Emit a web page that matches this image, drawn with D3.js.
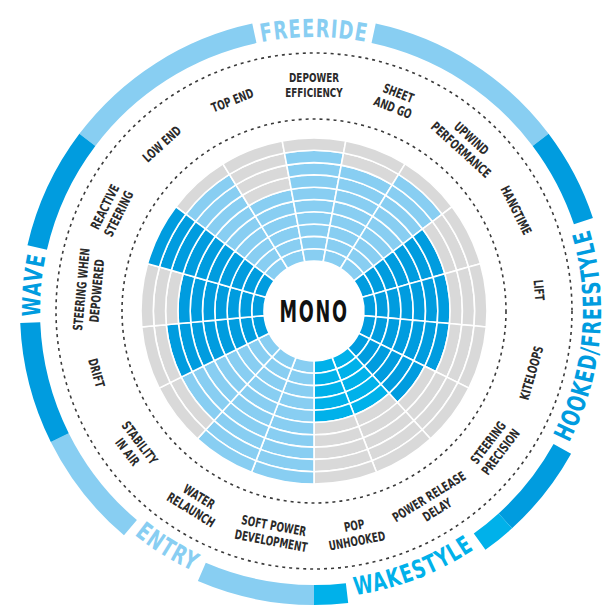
<!DOCTYPE html>
<html>
<head>
<meta charset="utf-8">
<script src="https://cdn.jsdelivr.net/npm/d3@7"></script>
<style>
  body { margin: 0; background: #fff; }
  svg text { font-family: "DejaVu Sans", sans-serif; font-weight: bold; }
</style>
</head>
<body>
<div class="chart"></div>
<script>
// categories clockwise, starting at LOW END ("\n" = line break)
const categories = ["LOW END", "TOP END", "DEPOWER\nEFFICIENCY", "SHEET\nAND GO", "UPWIND\nPERFORMANCE",
  "HANGTIME", "LIFT", "KITELOOPS", "STEERING\nPRECISION",
  "POWER RELEASE\nDELAY", "POP\nUNHOOKED",
  "SOFT POWER\nDEVELOPMENT", "WATER\nRELAUNCH", "STABILITY\nIN AIR",
  "DRIFT", "STEERING WHEN\nDEPOWERED", "REACTIVE\nSTEERING"];
const scores = [9, 6, 9, 8, 9, 7, 7, 7, 6, 5, 5, 10, 10, 8, 8, 7, 10];
const categoryGroup = ["FREERIDE", "FREERIDE", "FREERIDE", "FREERIDE", "FREERIDE",
  "HOOKED/FREESTYLE", "HOOKED/FREESTYLE", "HOOKED/FREESTYLE", "HOOKED/FREESTYLE",
  "WAKESTYLE", "WAKESTYLE",
  "ENTRY", "ENTRY", "ENTRY",
  "WAVE", "WAVE", "WAVE"];
const groups = ["FREERIDE", "HOOKED/FREESTYLE", "WAKESTYLE", "ENTRY", "WAVE"];
const groupColors = ["#88cef2", "#009cdf", "#00b1ea", "#88cef2", "#009cdf"];
const levels = [1, 2, 3, 4, 5, 6, 7, 8, 9, 10];
const centerLabel = "MONO";

const width = 608, height = 607;
const cx = 314, cy = 311;

const svg = d3.select(".chart").append("svg")
    .attr("width", width)
    .attr("height", height)
  .append("g")
    .attr("transform", `translate(${cx},${cy})`);

// one band per category, LOW END centred 2 steps left of top
const step = 2 * Math.PI / categories.length;
const angle = d3.scaleBand().domain(categories).range([-2.5 * step, 2 * Math.PI - 2.5 * step]);
const radius = d3.scaleLinear().domain([0, levels.length]).range([50, 173]);
const color = d3.scaleOrdinal().domain(groups).range(groupColors);

// cells: every category x every level
const cells = [];
categories.forEach((c, i) => levels.forEach(l => cells.push({
  cat: c, level: l, on: l <= scores[i], group: categoryGroup[i]
})));

const cellArc = d3.arc()
    .innerRadius(d => radius(d.level - 1))
    .outerRadius(d => radius(d.level))
    .startAngle(d => angle(d.cat))
    .endAngle(d => angle(d.cat) + angle.bandwidth());

svg.selectAll(".cell")
  .data(cells)
  .enter().append("path")
    .attr("class", "cell")
    .attr("d", cellArc)
    .attr("fill", d => d.on ? color(d.group) : "#d9d9d9")
    .attr("stroke", "#fff")
    .attr("stroke-width", 1.6);

// dashed guide circles around the labels
svg.selectAll(".guide")
  .data([192, 258])
  .enter().append("circle")
    .attr("r", d => d)
    .attr("fill", "none")
    .attr("stroke", "#3a3a3a")
    .attr("stroke-width", 1.6)
    .attr("stroke-dasharray", "3 4");

// category labels, flipped on the lower half; squeezed to look condensed
const labelR = 226;
const labels = svg.selectAll(".label")
  .data(categories)
  .enter().append("text")
    .attr("class", "label")
    .attr("text-anchor", "middle")
    .attr("font-size", 13)
    .attr("fill", "#2a2a2a")
    .attr("transform", d => {
      const a = angle(d) + angle.bandwidth() / 2;
      const deg = a * 180 / Math.PI;
      const rot = (deg > 90 && deg < 270) ? deg - 180 : deg;
      return `translate(${labelR * Math.sin(a)},${-labelR * Math.cos(a)}) rotate(${rot}) scale(0.68,1)`;
    });

labels.each(function(d) {
  const lines = d.split("\n");
  lines.forEach((t, j) => {
    d3.select(this).append("tspan")
      .attr("x", 0)
      .attr("y", (j - (lines.length - 1) / 2) * 15.5)
      .attr("dy", "0.36em")
      .text(t);
  });
});

// outer group ring with the label set into a gap
const ringIn = 274, ringOut = 294, ringMid = 283, groupFont = 25;
const ringArc = d3.arc().innerRadius(ringIn).outerRadius(ringOut);

groups.forEach((g, gi) => {
  const cats = categories.filter((c, i) => categoryGroup[i] === g);
  const a0 = angle(cats[0]);
  const a1 = angle(cats[cats.length - 1]) + angle.bandwidth();
  const mid = (a0 + a1) / 2;
  const deg = ((mid * 180 / Math.PI) + 360) % 360;
  const ccw = deg > 90 && deg < 270;

  const p = d3.path();
  if (ccw) {
    const r = ringMid - 5 + groupFont * 0.36;
    p.arc(0, 0, r, mid + 1 - Math.PI / 2, mid - 1 - Math.PI / 2, true);
  } else {
    const r = ringMid - groupFont * 0.36;
    p.arc(0, 0, r, mid - 1 - Math.PI / 2, mid + 1 - Math.PI / 2, false);
  }
  svg.append("path")
    .attr("id", "gpath" + gi)
    .attr("d", p.toString())
    .attr("fill", "none");

  const txt = svg.append("text")
    .attr("font-size", groupFont)
    .attr("letter-spacing", 1.5)
    .attr("fill", color(g));
  const tp = txt.append("textPath")
    .attr("href", "#gpath" + gi)
    .attr("startOffset", "50%")
    .attr("text-anchor", "middle")
    .text(g);

  // condense the lettering to the narrow face of the original
  const natural = txt.node().getComputedTextLength();
  const len = natural * 0.71;
  tp.attr("textLength", len).attr("lengthAdjust", "spacingAndGlyphs");
  const gap = (len + 14) / ringMid;

  svg.selectAll(".ring" + gi)
    .data([[a0, mid - gap / 2], [mid + gap / 2, a1]])
    .enter().append("path")
      .attr("d", d => ringArc({startAngle: d[0], endAngle: d[1]}))
      .attr("fill", color(g));
});

// centre label
svg.append("text")
    .attr("text-anchor", "middle")
    .attr("dy", "0.36em")
    .attr("font-size", 31)
    .attr("letter-spacing", 3)
    .attr("transform", "scale(0.57,1)")
    .attr("fill", "#111")
    .text(centerLabel);
</script>
</body>
</html>
